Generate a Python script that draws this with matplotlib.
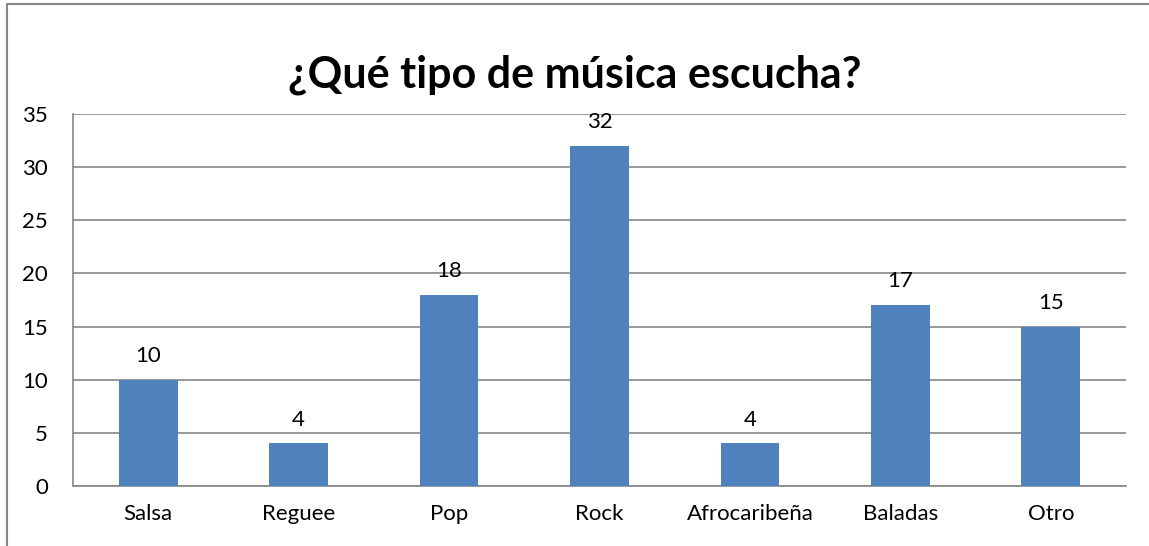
import matplotlib.pyplot as plt
from matplotlib.patches import Rectangle

categorias = ["Salsa", "Reguee", "Pop", "Rock", "Afrocaribeña", "Baladas", "Otro"]
valores = [10, 4, 18, 32, 4, 17, 15]
ticks_y = [0, 5, 10, 15, 20, 25, 30, 35]
titulo = "¿Qué tipo de música escucha?"

plt.rcParams['font.family'] = ['Lato', 'DejaVu Sans']

fig = plt.figure(figsize=(11.49, 5.46), dpi=100)
# plot area in pixels: x 73..1126, y 114..486
ax = fig.add_axes([73/1149, (546-486)/546, (1126-73)/1149, (486-114)/546])

x = range(len(categorias))
bars = ax.bar(x, valores, width=0.39, color="#4F81BD", zorder=3)
for b, v in zip(bars, valores):
    ax.text(b.get_x() + b.get_width()/2, v + 1.3, str(v), ha="center", va="bottom",
            fontsize=16, color="black")

ax.set_xlim(-0.5, len(categorias) - 0.5)
ax.set_ylim(0, 35)
ax.set_yticks(ticks_y)
ax.set_xticks(list(x))
ax.set_xticklabels(categorias)
ax.tick_params(axis="both", length=0, labelsize=16, colors="black")
ax.tick_params(axis="x", pad=13)
ax.tick_params(axis="y", pad=18)
ax.yaxis.grid(True, color="#868686", linewidth=1.2, zorder=0)
for s in ["top", "right"]:
    ax.spines[s].set_visible(False)
for s in ["left", "bottom"]:
    ax.spines[s].set_color("#868686")
    ax.spines[s].set_linewidth(1.2)

fig.text(575/1149, 1 - 75/546, titulo, ha="center", va="center",
         fontsize=31, fontweight="bold", color="black")

# chart frame
fig.patches.append(Rectangle((7/1149, -0.05), 1.1, 0.05 + (546-4)/546,
                             transform=fig.transFigure, fill=False,
                             edgecolor="#868686", linewidth=1.5))

fig.savefig("out.png", dpi=100)
